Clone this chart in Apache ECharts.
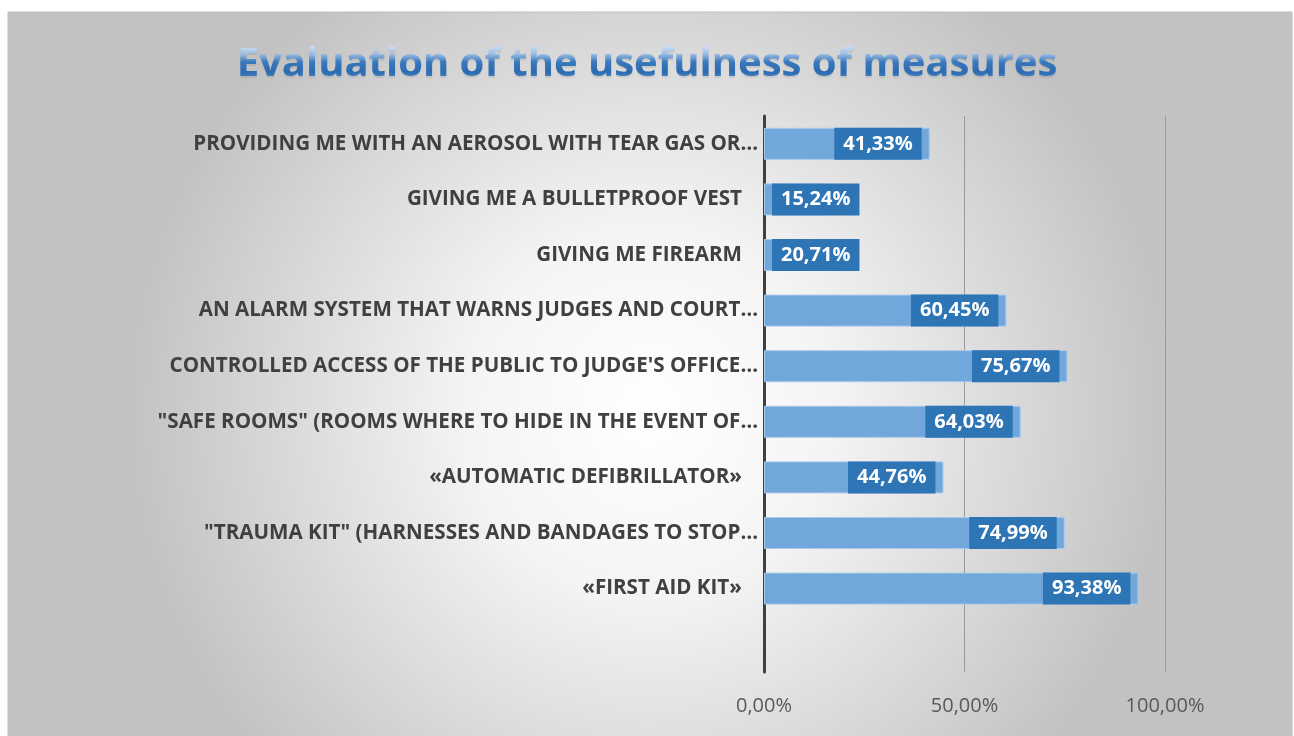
<!DOCTYPE html>
<html>
<head>
<meta charset="utf-8">
<script src="https://cdn.jsdelivr.net/npm/echarts@6/dist/echarts.min.js"></script>
<style>
  html, body { margin: 0; padding: 0; background: #fff; }
  #chart { width: 1294px; height: 736px; }
</style>
</head>
<body>
<div id="chart"></div>
<script>
  // bottom to top, as in the picture (empty slot at the bottom)
  const measures = [
    '',
    '«FIRST AID KIT»   ',
    '"TRAUMA KIT" (HARNESSES AND BANDAGES TO STOP…',
    '«AUTOMATIC DEFIBRILLATOR»   ',
    '"SAFE ROOMS" (ROOMS WHERE TO HIDE IN THE EVENT OF…',
    'CONTROLLED ACCESS OF THE PUBLIC TO JUDGE\'S OFFICE…',
    'AN ALARM SYSTEM THAT WARNS JUDGES AND COURT…',
    'GIVING ME FIREARM   ',
    'GIVING ME A BULLETPROOF VEST   ',
    'PROVIDING ME WITH AN AEROSOL WITH TEAR GAS OR…'
  ]
  const usefulness = [null, 93.38, 74.99, 44.76, 64.03, 75.67, 60.45, 20.71, 15.24, 41.33]
  const axisTicks = [0, 50, 100]

  const chartTitle = 'Evaluation of the usefulness of measures'
  const titleFont = 'bold 40px "Open Sans", sans-serif'

  const chart = echarts.init(document.getElementById('chart'))

  const fmt = function (v) {
    return v.toFixed(2).replace('.', ',') + '%'
  }

  chart.setOption({
    backgroundColor: '#ffffff',
    graphic: [
      {
        type: 'rect',
        z: -10,
        shape: { x: 8, y: 12, width: 1284, height: 726 },
        style: {
          fill: new echarts.graphic.RadialGradient(0.5, 0.55, 0.72, [
            { offset: 0, color: '#ffffff' },
            { offset: 0.35, color: '#f4f4f4' },
            { offset: 1, color: '#c2c2c2' }
          ]),
          stroke: '#bdbdbd',
          lineWidth: 1
        }
      },
      {
        // soft shadow under the title
        type: 'text',
        left: 'center',
        top: 47,
        z: 5,
        style: {
          text: chartTitle,
          font: titleFont,
          fill: 'rgba(0,0,0,0.07)',
          textShadowColor: 'rgba(0,0,0,0.14)',
          textShadowBlur: 3
        }
      },
      {
        // title letters on their own layer
        type: 'text',
        left: 'center',
        top: 45,
        zlevel: 1,
        z: 1,
        style: {
          text: chartTitle,
          font: titleFont,
          fill: '#2e6db3'
        }
      },
      {
        // paints a vertical gradient onto the letters only
        type: 'rect',
        zlevel: 1,
        z: 2,
        shape: { x: 200, y: 44, width: 900, height: 40 },
        style: {
          blend: 'source-atop',
          fill: new echarts.graphic.LinearGradient(0, 0, 0, 1, [
            { offset: 0, color: '#dbe7f4' },
            { offset: 0.25, color: '#9bbde3' },
            { offset: 0.45, color: '#3a78bd' },
            { offset: 0.7, color: '#2c6bb1' },
            { offset: 0.88, color: '#4d89c8' },
            { offset: 1, color: '#8fb6e0' }
          ])
        }
      }
    ],
    grid: {
      left: 764,
      right: 129,
      top: 116,
      bottom: 64
    },
    xAxis: {
      type: 'value',
      min: 0,
      max: 100,
      interval: 50,
      axisLine: { show: false },
      axisTick: { show: false },
      splitLine: { lineStyle: { color: '#9a9a9a', width: 1 } },
      axisLabel: {
        margin: 24,
        color: '#595959',
        fontSize: 20,
        fontFamily: '"Open Sans", sans-serif',
        formatter: function (v) {
          return axisTicks.indexOf(v) >= 0 ? fmt(v) : ''
        }
      }
    },
    yAxis: {
      type: 'category',
      data: measures,
      axisLine: { lineStyle: { color: '#404040', width: 3 } },
      axisTick: { show: false },
      axisLabel: {
        margin: 6,
        color: '#404040',
        fontSize: 20.6,
        fontWeight: 'bold',
        fontFamily: '"Open Sans", sans-serif'
      }
    },
    series: [
      {
        type: 'bar',
        data: usefulness,
        barWidth: 32,
        itemStyle: {
          color: '#71a7db',
          borderColor: '#a8c9ec',
          borderWidth: 1
        },
        label: {
          show: true,
          position: 'insideRight',
          distance: 8,
          formatter: function (p) { return fmt(p.value) },
          color: '#ffffff',
          fontSize: 20,
          fontWeight: 'bold',
          fontFamily: '"Open Sans", sans-serif',
          backgroundColor: '#2e75b6',
          padding: [7, 9, 5, 9]
        },
        labelLayout: function (p) {
          if (p.labelRect.x < p.rect.x + 8) {
            return {
              x: p.rect.x + 8 + p.labelRect.width / 2,
              y: p.rect.y + p.rect.height / 2,
              align: 'center',
              verticalAlign: 'middle'
            }
          }
          return {}
        }
      }
    ]
  })
</script>
</body>
</html>
